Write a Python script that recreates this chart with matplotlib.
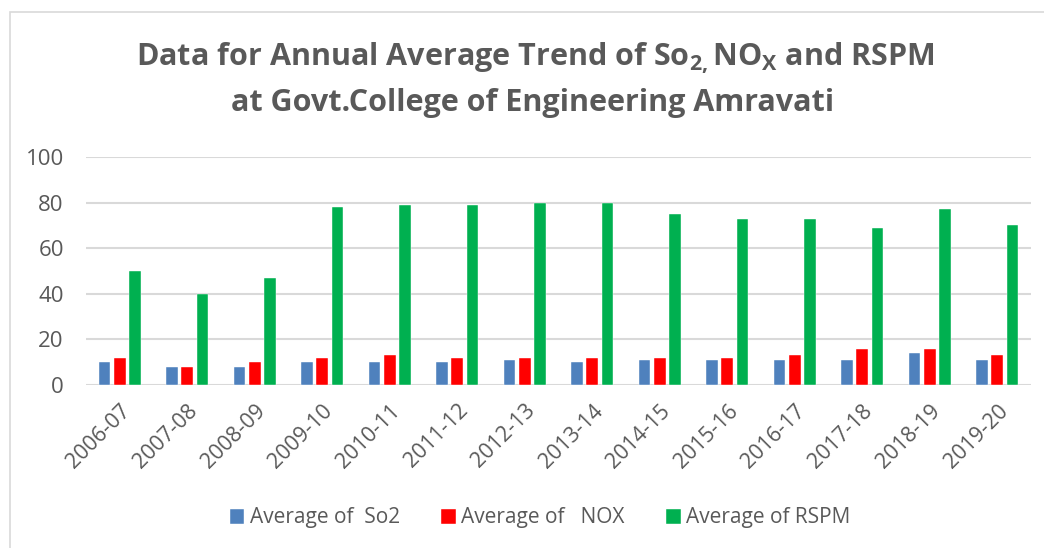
import matplotlib
matplotlib.use("Agg")
import matplotlib.pyplot as plt
import numpy as np
from matplotlib.patches import Rectangle

years = ["2006-07", "2007-08", "2008-09", "2009-10", "2010-11", "2011-12", "2012-13",
         "2013-14", "2014-15", "2015-16", "2016-17", "2017-18", "2018-19", "2019-20"]
so2 = [10, 8, 8, 10, 10, 10, 11, 10, 11, 11, 11, 11, 14, 11]
nox = [12, 8, 10, 12, 13, 12, 12, 12, 12, 12, 13, 16, 16, 13]
rspm = [50, 40, 47, 78, 79, 79, 80, 80, 75, 73, 73, 69, 77, 70]
series_labels = ["Average of  So2", "Average of   NOX", "Average of RSPM"]
colors = ["#4F81BD", "#FF0000", "#00B050"]
yticks = [0, 20, 40, 60, 80, 100]

FONT = "Open Sans"
GRAY = "#595959"
plt.rcParams["font.family"] = [FONT, "DejaVu Sans"]
plt.rcParams["mathtext.fontset"] = "custom"
plt.rcParams["mathtext.rm"] = FONT + ":bold"
plt.rcParams["mathtext.it"] = FONT + ":bold"
plt.rcParams["mathtext.bf"] = FONT + ":bold"
plt.rcParams["mathtext.default"] = "rm"

fig = plt.figure(figsize=(10.44, 5.48), dpi=100)
fig.patch.set_facecolor("white")
fig.patches.append(Rectangle((10 / 1044, -0.01), 1.02, 1 - 12 / 548 + 0.01,
                             transform=fig.transFigure, fill=False,
                             edgecolor="#d9d9d9", linewidth=1.2))

ax = fig.add_axes([86 / 1044, 1 - 385 / 548, (1031 - 86) / 1044, (385 - 157) / 548])
x = np.arange(len(years))
w = 0.173
off = 0.225
for i, (vals, lab, c) in enumerate(zip([so2, nox, rspm], series_labels, colors)):
    ax.bar(x + (i - 1) * off, vals, width=w, color=c, label=lab,
           edgecolor="white", linewidth=0.3, zorder=3)

ax.set_xlim(-0.5, len(years) - 0.5)
ax.set_ylim(0, 100)
ax.set_yticks(yticks)
ax.yaxis.grid(True, color="#d9d9d9", linewidth=1.5, zorder=0)
ax.set_axisbelow(True)
for s in ax.spines.values():
    s.set_visible(False)
ax.tick_params(axis="y", length=0, pad=16, labelsize=16, labelcolor=GRAY)
ax.tick_params(axis="x", length=0, pad=11, labelsize=15.5, labelcolor=GRAY)
ax.set_xticks(x)
ax.set_xticklabels(years, rotation=45, ha="right", va="top", rotation_mode="anchor")

fig.text(535 / 1044, 1 - 58 / 548,
         r"Data for Annual Average Trend of So$_{2,}$NO$_{X}$ and RSPM",
         ha="center", va="center", fontsize=22, fontweight="bold", color=GRAY)
fig.text(533 / 1044, 1 - 103 / 548,
         "at Govt.College of Engineering Amravati",
         ha="center", va="center", fontsize=22, fontweight="bold", color=GRAY)

fig.legend(loc="center", bbox_to_anchor=(540 / 1044, 1 - 518 / 548), ncol=3,
           frameon=False, fontsize=15, labelcolor=GRAY, handlelength=0.7,
           handleheight=0.7, handletextpad=0.25, columnspacing=2.0)

fig.savefig("out.png", dpi=100)
